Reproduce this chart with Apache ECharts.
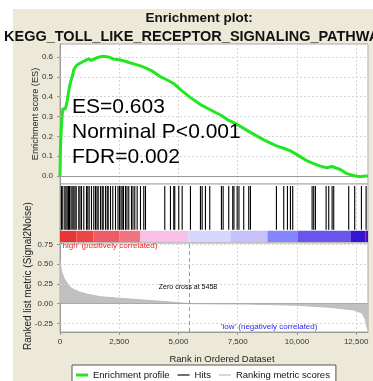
<!DOCTYPE html>
<html><head><meta charset="utf-8">
<script src="https://cdn.jsdelivr.net/npm/echarts@6/dist/echarts.min.js"></script>
<style>html,body{margin:0;padding:0;background:#fff}#chart{width:373px;height:381px}</style>
</head><body><div id="chart"></div>
<script>
// ---- GSEA result: KEGG Toll-like receptor signaling pathway ----
const datasetSize = 13000;
const zeroCross = 5458;
const esValue = '0.603';
const nominalP = '<0.001';
const fdrValue = '0.002';

// running enrichment score: [rank, ES]
const esProfile = [
  [0,0],[20,0.15],[63,0.26],[118,0.34],[203,0.335],[253,0.35],[304,0.38],[359,0.42],[401,0.45],
  [464,0.48],[515,0.5],[582,0.535],[684,0.555],[793,0.565],[907,0.572],[1004,0.578],[1118,0.585],
  [1173,0.592],[1232,0.59],[1329,0.582],[1426,0.588],[1561,0.596],[1709,0.601],[1823,0.603],
  [1920,0.602],[2034,0.6],[2131,0.596],[2228,0.59],[2342,0.588],[2511,0.586],[2624,0.582],
  [2764,0.578],[2903,0.572],[3080,0.566],[3257,0.56],[3397,0.555],[3608,0.545],[3900,0.528],
  [4240,0.5],[4422,0.49],[4662,0.475],[4844,0.462],[5084,0.435],[5506,0.395],[5928,0.36],
  [6321,0.335],[6814,0.305],[7122,0.28],[7477,0.26],[7755,0.24],[8038,0.22],[8600,0.182],
  [9135,0.152],[9443,0.14],[9726,0.127],[10000,0.108],[10400,0.078],[10709,0.063],[10990,0.05],
  [11260,0.042],[11485,0.048],[11553,0.05],[11830,0.033],[12110,0.012],[12390,0.003],
  [12670,-0.003],[12890,0.0],[13000,0]
];

// positions of the gene-set members in the ranked list
const hitRanks = [
  63,118,203,253,304,359,401,464,515,582,633,684,793,844,907,1004,1118,1173,1232,1329,1426,
  1498,1561,1612,1709,1781,1823,1920,1992,2034,2131,2228,2342,2447,2511,2574,2624,2679,2764,
  2827,2903,3017,3080,3156,3257,3397,3536,3608,4422,4662,4802,4844,5013,5156,5506,5928,6000,
  6139,6321,6814,6886,7122,7291,7342,7477,7553,7755,7966,8038,9135,9443,9599,9726,9823,10641,
  10709,10781,11232,11342,11485,11553,12186,12439,12722,12920
];

// ranked list metric (Signal2Noise): [rank, value]
const metricProfile = [
  [0,0.56],[15,0.5],[40,0.45],[93,0.385],[180,0.32],[304,0.26],[420,0.21],[582,0.18],[800,0.15],
  [1148,0.12],[1709,0.088],[2553,0.067],[3536,0.046],[4523,0.025],[5458,0],[6500,-0.003],
  [7900,-0.006],[10000,-0.02],[11400,-0.047],[12400,-0.08],[12750,-0.12],[12890,-0.2],
  [12960,-0.3],[13000,-0.33]
];

// heat bar segment limits along the ranked list
const colorBarBreaks = [0,700,1413,2500,3397,5422,7193,8755,10021,12257,12890,13000];

const esTicks = [0,0.1,0.2,0.3,0.4,0.5,0.6];
const metricTicks = [-0.25,0,0.25,0.5,0.75];
const rankTicks = [0,2500,5000,7500,10000,12500];

// ---- styling ----
const FONT = 'Liberation Sans, Arial, sans-serif';
const colorBarPalette = ['#e63737','#ea4646','#ee5c68','#f07583','#f8c0e6','#d6d6ff',
  '#c6c0fc','#8585ff','#6a55ee','#3614d4','#5a0aa0'];
const gridLine = {color:'#d4d4d4', type:[2,2], width:1};

const colorBarSegments = [];
for (let i = 0; i < colorBarBreaks.length - 1; i++) {
  colorBarSegments.push([colorBarBreaks[i], colorBarBreaks[i + 1], i]);
}

const chart = echarts.init(document.getElementById('chart'), null, {renderer:'canvas'});

const xBase = {
  type:'value', min:0, max:datasetSize, interval:2500,
  axisLine:{show:false}, axisTick:{show:false}, axisLabel:{show:false},
  splitLine:{show:true, lineStyle:gridLine}
};

const yTickLabel = {color:'#333', fontSize:8, fontFamily:FONT, margin:7};

option = {
  animation:false,
  backgroundColor:'#fff',
  grid:[
    {left:60, top:44, width:308, height:140, show:true, backgroundColor:'#fff', borderColor:'#a8a8a8', borderWidth:1},
    {left:60, top:184, width:308, height:59, show:true, backgroundColor:'#fff', borderColor:'#a8a8a8', borderWidth:1},
    {left:60, top:243, width:308, height:89, show:true, backgroundColor:'#fff', borderColor:'#a8a8a8', borderWidth:1}
  ],
  xAxis:[
    Object.assign({gridIndex:0}, xBase),
    Object.assign({gridIndex:1}, xBase),
    Object.assign({}, xBase, {
      gridIndex:2,
      axisLine:{show:true, onZero:false, lineStyle:{color:'#999'}},
      axisTick:{show:true, length:3, customValues:rankTicks, lineStyle:{color:'#999'}},
      axisLabel:{show:true, color:'#333', fontSize:8, fontFamily:FONT, margin:6,
        customValues:rankTicks, formatter:v => v.toLocaleString('en-US')},
      name:'Rank in Ordered Dataset', nameLocation:'middle', nameGap:22,
      nameTextStyle:{color:'#222', fontSize:9.5, fontFamily:FONT, padding:[0,0,0,16]}
    })
  ],
  yAxis:[
    {gridIndex:0, type:'value', min:-0.04, max:0.665,
      axisLine:{show:true, lineStyle:{color:'#999'}},
      axisTick:{show:true, length:3, customValues:esTicks, lineStyle:{color:'#999'}},
      axisLabel:Object.assign({customValues:esTicks, formatter:v => v.toFixed(1)}, yTickLabel),
      splitLine:{show:false}},
    {gridIndex:1, type:'value', min:0, max:1, axisLine:{show:true, lineStyle:{color:'#999'}},
      axisTick:{show:false}, axisLabel:{show:false}, splitLine:{show:false}},
    {gridIndex:2, type:'value', min:-0.36, max:0.77,
      axisLine:{show:true, onZero:false, lineStyle:{color:'#999'}},
      axisTick:{show:true, length:3, customValues:metricTicks, lineStyle:{color:'#999'}},
      axisLabel:Object.assign({customValues:metricTicks, formatter:v => v.toFixed(2)}, yTickLabel),
      splitLine:{show:false}}
  ],
  legend:{
    left:72, top:365, orient:'horizontal',
    backgroundColor:'#fff', borderColor:'#555', borderWidth:1, borderRadius:0,
    padding:[5,6,6,4], itemGap:8, itemWidth:12, itemHeight:8,
    textStyle:{color:'#111', fontSize:9.5, fontFamily:FONT},
    data:[
      {name:'Enrichment profile', icon:'path://M0,0H12V3H0Z', itemStyle:{color:'#22e622'}},
      {name:'Hits', icon:'path://M0,0H12V1.2H0Z', itemStyle:{color:'#111'}},
      {name:'Ranking metric scores', icon:'path://M0,0H12V1.2H0Z', itemStyle:{color:'#bbb'}}
    ]
  },
  series:[
    {
      name:'Enrichment profile', type:'line', xAxisIndex:0, yAxisIndex:0,
      data:esProfile, symbol:'none', z:5,
      lineStyle:{color:'#22e622', width:3}, itemStyle:{color:'#22e622'},
      markLine:{
        silent:true, symbol:'none', label:{show:false}, animation:false,
        data:esTicks.filter(v => v !== 0).map(v => ({yAxis:v, lineStyle:gridLine}))
          .concat([{yAxis:0, lineStyle:{color:'#999', type:'solid', width:1}}])
      }
    },
    {
      name:'Hits', type:'custom', xAxisIndex:1, yAxisIndex:1, z:4,
      data:hitRanks.map(r => [r, 0.5]),
      itemStyle:{color:'#111'},
      renderItem:(params, api) => {
        const x = api.coord([api.value(0), 0])[0];
        const yBottom = api.coord([0, 0.224])[1];
        const yTop = api.coord([0, 0.966])[1];
        return {type:'line', shape:{x1:x, y1:yBottom, x2:x, y2:yTop},
          style:{stroke:'#000', lineWidth:1.1}};
      }
    },
    {
      name:'Heat bar', type:'custom', xAxisIndex:1, yAxisIndex:1, z:3,
      data:colorBarSegments, silent:true,
      renderItem:(params, api) => {
        const p0 = api.coord([api.value(0), 0.207]);
        const p1 = api.coord([api.value(1), 0.017]);
        return {type:'rect', shape:{x:p0[0], y:p0[1], width:p1[0]-p0[0], height:p1[1]-p0[1]},
          style:{fill:colorBarPalette[api.value(2)]}};
      }
    },
    {
      name:'Ranking metric scores', type:'line', xAxisIndex:2, yAxisIndex:2,
      data:metricProfile, symbol:'none', z:3,
      lineStyle:{color:'#bdbdbd', width:1}, itemStyle:{color:'#bdbdbd'},
      areaStyle:{color:'#c0c0c0', opacity:1, origin:0},
      markLine:{
        silent:true, symbol:'none', label:{show:false}, animation:false,
        data:metricTicks.filter(v => v !== 0).map(v => ({yAxis:v, lineStyle:gridLine}))
          .concat([{yAxis:0, lineStyle:{color:'#aaa', type:'solid', width:1}},
                   {xAxis:zeroCross, lineStyle:{color:'#999', type:[4,3], width:1}}])
      }
    }
  ],
  graphic:[
    {type:'rect', z:-100, silent:true, shape:{x:13, y:9, width:360, height:372}, style:{fill:'#ece9d8'}},
    {type:'text', x:199, y:18, style:{text:'Enrichment plot:', align:'center', verticalAlign:'middle',
      font:'bold 13.5px ' + FONT, fill:'#111'}},
    {type:'text', x:4, y:37, style:{text:'KEGG_TOLL_LIKE_RECEPTOR_SIGNALING_PATHWAY', align:'left',
      verticalAlign:'middle', font:'bold 14.5px ' + FONT, fill:'#111'}},
    {type:'text', x:35, y:114, rotation:Math.PI/2, style:{text:'Enrichment score (ES)', align:'center',
      verticalAlign:'middle', font:'9.2px ' + FONT, fill:'#222'}},
    {type:'text', x:28, y:276, rotation:Math.PI/2, style:{text:'Ranked list metric (Signal2Noise)', align:'center',
      verticalAlign:'middle', font:'10px ' + FONT, fill:'#222'}},
    {type:'text', x:72, y:107, z:10, style:{text:'ES=' + esValue, verticalAlign:'middle', font:'21px ' + FONT, fill:'#000'}},
    {type:'text', x:72, y:132, z:10, style:{text:'Norminal P' + nominalP, verticalAlign:'middle', font:'21px ' + FONT, fill:'#000'}},
    {type:'text', x:72, y:157, z:10, style:{text:'FDR=' + fdrValue, verticalAlign:'middle', font:'21px ' + FONT, fill:'#000'}},
    {type:'text', x:61, y:246, z:10, style:{text:"'high' (positively correlated)", verticalAlign:'middle',
      font:'8px ' + FONT, fill:'#f02020'}},
    {type:'text', x:221, y:327, z:10, style:{text:"'low' (negatively correlated)", verticalAlign:'middle',
      font:'8px ' + FONT, fill:'#2828f0'}},
    {type:'text', x:188, y:287, z:10, style:{text:'Zero cross at ' + zeroCross, align:'center', verticalAlign:'middle',
      font:'7px ' + FONT, fill:'#000'}}
  ]
};
chart.setOption(option);
</script></body></html>
